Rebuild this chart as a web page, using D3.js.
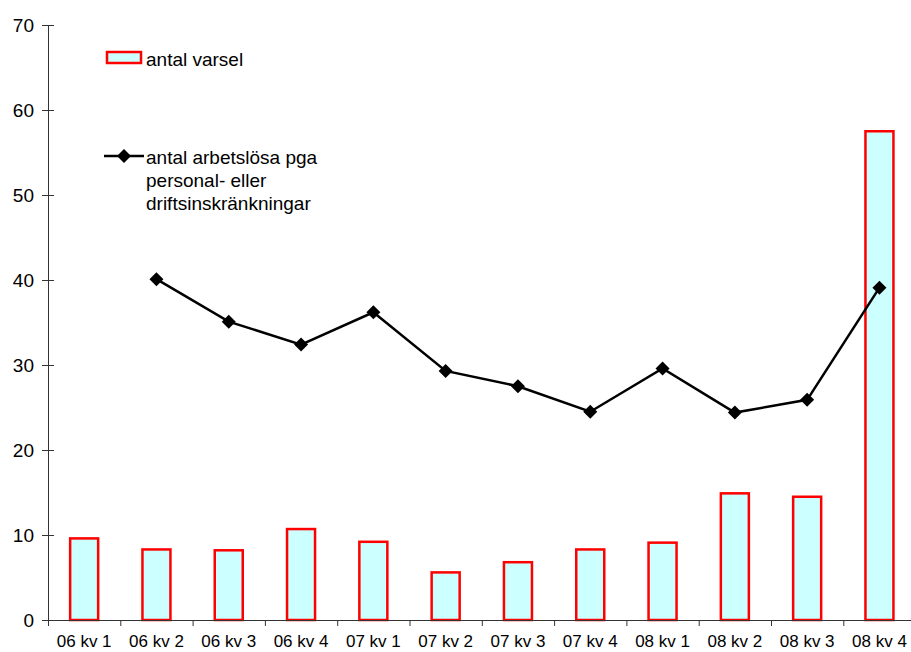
<!DOCTYPE html>
<html>
<head>
<meta charset="utf-8">
<script src="https://cdn.jsdelivr.net/npm/d3@7"></script>
<style>
  body { margin: 0; background: #fff; }
  svg { display: block; }
  text { font-family: "Liberation Sans", Arial, sans-serif; fill: #000; }
</style>
</head>
<body>
<svg id="chart" width="911" height="652"></svg>
<script>
// kvartal
const categories = ["06 kv 1", "06 kv 2", "06 kv 3", "06 kv 4",
                    "07 kv 1", "07 kv 2", "07 kv 3", "07 kv 4",
                    "08 kv 1", "08 kv 2", "08 kv 3", "08 kv 4"];

// antal varsel
const varsel = [9.6, 8.3, 8.2, 10.7, 9.2, 5.6, 6.8, 8.3, 9.1, 14.9, 14.5, 57.5];

// antal arbetslösa pga personal- eller driftsinskränkningar
const arbetslosa = [null, 40.1, 35.1, 32.4, 36.2, 29.3, 27.5, 24.5, 29.6, 24.4, 25.9, 39.1];

const yTicks = [0, 10, 20, 30, 40, 50, 60, 70];

const svg = d3.select("#chart");

const mLeft = 48, mTop = 25, mBottom = 620;
const step = 72.3;

const x = d3.scaleBand()
    .domain(categories)
    .range([mLeft, mLeft + step * categories.length])
    .padding(0);

const y = d3.scaleLinear()
    .domain([0, 70])
    .range([mBottom, mTop]);

const barW = 28;
const diamond = "M0,-7L7,0L0,7L-7,0Z";

// bars
svg.append("g")
  .selectAll("rect")
  .data(varsel)
  .enter().append("rect")
    .attr("x", (d, i) => x(categories[i]) + (x.bandwidth() - barW) / 2)
    .attr("y", d => y(d))
    .attr("width", barW)
    .attr("height", d => y(0) - y(d))
    .attr("fill", "#ccffff")
    .attr("stroke", "#ff0000")
    .attr("stroke-width", 2.5);

// y axis
svg.append("g")
    .attr("transform", `translate(${mLeft},0)`)
    .call(d3.axisLeft(y).tickValues(yTicks).tickSize(6).tickPadding(8))
    .call(g => g.select(".domain").attr("stroke", "#333").attr("d", `M0.5,${mTop}V${mBottom}`))
    .call(g => g.selectAll(".tick line").attr("x1", 6).attr("stroke", "#333"))
    .call(g => g.selectAll(".tick text")
        .attr("font-size", 19)
        .attr("font-family", "Liberation Sans, Arial, sans-serif")
        .attr("fill", "#000"));

// x axis
const xAxis = svg.append("g")
    .attr("transform", `translate(0,${mBottom})`);

xAxis.call(d3.axisBottom(x).tickSize(0).tickPadding(15))
    .call(g => g.select(".domain").attr("stroke", "#333").attr("d", `M${mLeft},0.5H911`))
    .call(g => g.selectAll(".tick text")
        .attr("font-size", 17)
        .attr("font-family", "Liberation Sans, Arial, sans-serif")
        .attr("fill", "#000"));

xAxis.selectAll("line.bound")
  .data(d3.range(categories.length + 1))
  .enter().append("line")
    .attr("class", "bound")
    .attr("x1", i => mLeft + i * x.step() + 0.5)
    .attr("x2", i => mLeft + i * x.step() + 0.5)
    .attr("y1", 0)
    .attr("y2", 6)
    .attr("stroke", "#333");

// line
const line = d3.line()
    .defined(d => d != null)
    .x((d, i) => x(categories[i]) + x.bandwidth() / 2)
    .y(d => y(d));

svg.append("path")
    .datum(arbetslosa)
    .attr("fill", "none")
    .attr("stroke", "#000")
    .attr("stroke-width", 2.5)
    .attr("d", line);

svg.append("g")
  .selectAll("path")
  .data(arbetslosa.map((d, i) => ({ v: d, c: categories[i] })).filter(d => d.v != null))
  .enter().append("path")
    .attr("d", diamond)
    .attr("transform", d => `translate(${x(d.c) + x.bandwidth() / 2},${y(d.v)})`)
    .attr("fill", "#000");

// legend
const legend = svg.append("g");

legend.append("rect")
    .attr("x", 107).attr("y", 52)
    .attr("width", 34).attr("height", 11)
    .attr("fill", "#ccffff")
    .attr("stroke", "#ff0000")
    .attr("stroke-width", 2.5);

legend.append("text")
    .attr("x", 146).attr("y", 66)
    .attr("font-size", 19)
    .text("antal varsel");

legend.append("line")
    .attr("x1", 104).attr("x2", 144)
    .attr("y1", 156).attr("y2", 156)
    .attr("stroke", "#000")
    .attr("stroke-width", 2.5);

legend.append("path")
    .attr("d", diamond)
    .attr("transform", "translate(124,156)")
    .attr("fill", "#000");

const lines = ["antal arbetslösa pga", "personal- eller", "driftsinskränkningar"];
legend.append("text")
    .attr("x", 146).attr("y", 164)
    .attr("font-size", 19)
  .selectAll("tspan")
  .data(lines)
  .enter().append("tspan")
    .attr("x", 146)
    .attr("dy", (d, i) => i === 0 ? 0 : 23)
    .text(d => d);
</script>
</body>
</html>
